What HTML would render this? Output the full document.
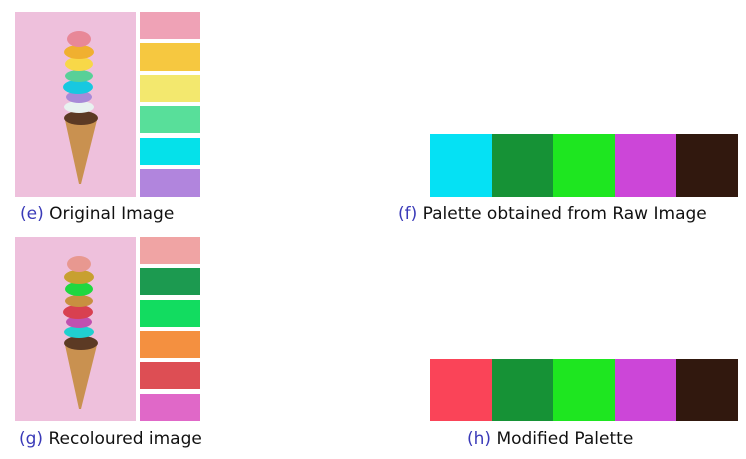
<!DOCTYPE html>
<html><head><meta charset="utf-8"><style>
body{margin:0;width:746px;height:459px;background:#fff;position:relative;overflow:hidden;font-family:"DejaVu Sans","Liberation Sans",sans-serif}
.a{position:absolute}
.cap{position:absolute;font-size:17px;color:#111;white-space:nowrap}
.cap span{color:#3a3ab8}
</style></head><body>
<div class="a" style="left:15px;top:12px;width:121px;height:185px;background:#eec0dc">
<svg width="121" height="185">
<polygon points="50,108 82,108 66,172 64,172" fill="#c99150"/>
<ellipse cx="66" cy="106" rx="17" ry="7" fill="#5c3a24"/>
<ellipse cx="64" cy="95" rx="15" ry="6" fill="#e8f2f0"/>
<ellipse cx="64" cy="85" rx="13" ry="6" fill="#a88ad8"/>
<ellipse cx="63" cy="75" rx="15" ry="7" fill="#18c8e0"/>
<ellipse cx="64" cy="64" rx="14" ry="6" fill="#58d098"/>
<ellipse cx="64" cy="52" rx="14" ry="7" fill="#f8d848"/>
<ellipse cx="64" cy="40" rx="15" ry="7" fill="#f0b030"/>
<ellipse cx="64" cy="27" rx="12" ry="8" fill="#e88898"/>
</svg></div>
<div class="a" style="left:140px;top:12px;width:60px;height:27px;background:#efa2b6"></div>
<div class="a" style="left:140px;top:43px;width:60px;height:28px;background:#f6c840"></div>
<div class="a" style="left:140px;top:75px;width:60px;height:27px;background:#f3e86e"></div>
<div class="a" style="left:140px;top:106px;width:60px;height:27px;background:#58df9a"></div>
<div class="a" style="left:140px;top:138px;width:60px;height:27px;background:#05e1ea"></div>
<div class="a" style="left:140px;top:169px;width:60px;height:28px;background:#b185dd"></div>
<div class="cap" style="left:20px;top:204px"><span>(e)</span> Original Image</div>

<div class="a" style="left:15px;top:237px;width:121px;height:184px;background:#eec0dc">
<svg width="121" height="184">
<polygon points="50,108 82,108 66,172 64,172" fill="#c99150"/>
<ellipse cx="66" cy="106" rx="17" ry="7" fill="#5c3a24"/>
<ellipse cx="64" cy="95" rx="15" ry="6" fill="#20d0d0"/>
<ellipse cx="64" cy="85" rx="13" ry="6" fill="#c050b0"/>
<ellipse cx="63" cy="75" rx="15" ry="7" fill="#d84050"/>
<ellipse cx="64" cy="64" rx="14" ry="6" fill="#c89040"/>
<ellipse cx="64" cy="52" rx="14" ry="7" fill="#20d840"/>
<ellipse cx="64" cy="40" rx="15" ry="7" fill="#c8a030"/>
<ellipse cx="64" cy="27" rx="12" ry="8" fill="#e89890"/>
</svg></div>
<div class="a" style="left:140px;top:237px;width:60px;height:27px;background:#f0a4a4"></div>
<div class="a" style="left:140px;top:268px;width:60px;height:27px;background:#1c9a50"></div>
<div class="a" style="left:140px;top:300px;width:60px;height:27px;background:#12dc60"></div>
<div class="a" style="left:140px;top:331px;width:60px;height:27px;background:#f49040"></div>
<div class="a" style="left:140px;top:362px;width:60px;height:27px;background:#dd4e54"></div>
<div class="a" style="left:140px;top:394px;width:60px;height:27px;background:#e068c8"></div>
<div class="cap" style="left:19px;top:429px"><span>(g)</span> Recoloured image</div>

<div class="a" style="left:430px;top:134px;width:308px;height:63px;display:flex">
<div style="flex:1;background:#05e1f4"></div><div style="flex:1;background:#169236"></div><div style="flex:1;background:#1ee620"></div><div style="flex:1;background:#cc46d8"></div><div style="flex:1;background:#31180e"></div></div>
<div class="cap" style="left:398px;top:204px"><span>(f)</span> Palette obtained from Raw Image</div>

<div class="a" style="left:430px;top:359px;width:308px;height:62px;display:flex">
<div style="flex:1;background:#fa4458"></div><div style="flex:1;background:#169236"></div><div style="flex:1;background:#1ee620"></div><div style="flex:1;background:#cc46d8"></div><div style="flex:1;background:#31180e"></div></div>
<div class="cap" style="left:467px;top:429px"><span>(h)</span> Modified Palette</div>
</body></html>
